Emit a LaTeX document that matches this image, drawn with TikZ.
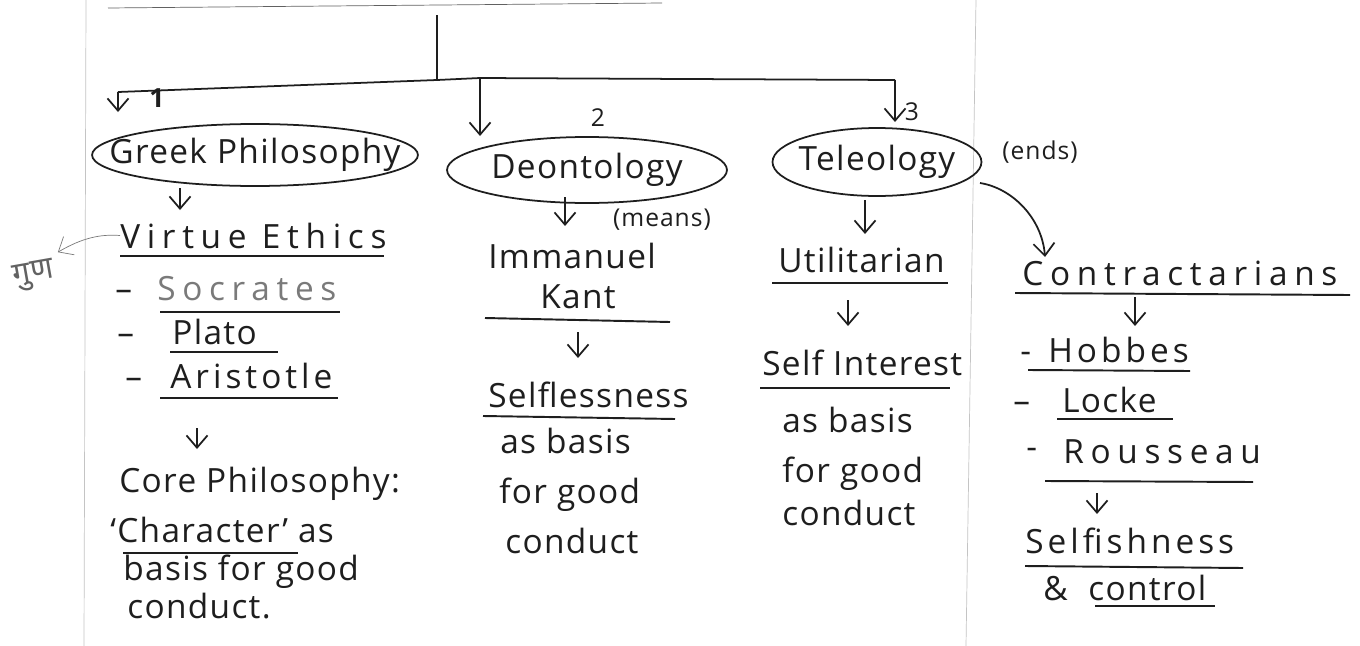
\documentclass[tikz,border=0pt]{standalone}
\usepackage{fontspec}
\setmainfont{Open Sans}[LetterSpace=4]
\newfontfamily\devafont[Script=Devanagari]{Noto Sans}
\usetikzlibrary{arrows.meta}

\definecolor{ink}{HTML}{1E1E1E}
\definecolor{pencil}{HTML}{7A7A7A}
\definecolor{edge}{HTML}{C4C4C4}

\begin{document}
\begin{tikzpicture}[
    x=0.02cm, y=-0.02cm,
    font=\fontsize{19}{22}\selectfont,
    >={Straight Barb[length=7pt,width=12pt]},
    word/.style={text=ink, inner sep=0pt, anchor=base west},
    wide/.style={word, font=\fontsize{19}{22}\selectfont\addfontfeatures{LetterSpace=20}},
    roomy/.style={word, font=\fontsize{19}{22}\selectfont\addfontfeatures{LetterSpace=12}},
    note/.style={text=ink, inner sep=0pt, font=\fontsize{14}{16}\selectfont},
    bubble/.style={draw=ink, line width=1pt},
    link/.style={draw=ink, line width=1pt, ->},
    uline/.style={draw=ink, line width=1.1pt},
]

\useasboundingbox (0,0) rectangle (1360,646);
\fill[white] (0,0) rectangle (1360,646);

% Page edges
\draw[edge] (86,0) -- (84,646);
\draw[edge] (976,0) -- (966,646);
\draw[ink!70] (108,8) -- (662,3);

% Trunk and branches
\coordinate (stem) at (437,15);
\coordinate (fork) at (437,80);
\coordinate (bl) at (118,92);
\coordinate (bm) at (480,78);
\coordinate (br) at (895,80);
\coordinate (tl) at (118,112);
\coordinate (tm) at (480,136);
\coordinate (tr) at (895,122);
\draw[ink, line width=1pt] (stem) -- (fork);
\draw[ink, line width=1pt] (bl) -- (fork) -- (bm) -- (br);
\draw[link] (bl) -- (tl);
\draw[link] (bm) -- (tm);
\draw[link] (br) -- (tr);

\node[note, font=\fontsize{15}{17}\bfseries] (n1) at (157,98) {1};
\node[note] (n2) at (598,118) {2};
\node[note] (n3) at (912,112) {3};

% Greek Philosophy
\node[text=ink] (greek) at (255,155) {Greek Philosophy};
\draw[bubble] (greek.center) ellipse [x radius=3.26cm, y radius=0.62cm];
\coordinate (g1) at (180,188);
\coordinate (g2) at (180,210);
\draw[link] (g1) -- (g2);

\node[wide] (virtue) at (120,248) {Virtue Ethics};
\draw[uline] (120,256) -- (384,256);
\node[text=pencil!80!black, inner sep=0pt, font=\devafont\fontsize{18}{20}\selectfont, rotate=10] (guna) at (34,276) {गुण};
\draw[pencil, thin, ->] (virtue.west) .. controls (100,234) and (82,238) .. ([shift={(6,-6)}]guna.north east);

\node[word] (d1) at (115,300) {–};
\node[wide, text=pencil] (socrates) at (157,300) {Socrates};
\draw[uline] (160,312) -- (340,312);
\node[word] (d2) at (117,344) {–};
\node[word] (plato) at (172,344) {Plato};
\draw[uline] (170,352) -- (278,352);
\node[word] (d3) at (125,388) {–};
\node[roomy] (aristotle) at (170,388) {Aristotle};
\draw[uline] (160,398) -- (338,398);

\coordinate (g3) at (197,428);
\coordinate (g4) at (197,449);
\draw[link] (g3) -- (g4);
\node[word] (core) at (119,492) {Core Philosophy:};
\node[word] (character) at (110,542) {‘Character’ as};
\draw[uline] (123,553) -- (298,553);
\node[word] (basis1) at (123,580) {basis for good};
\node[word] (conduct1) at (127,618) {conduct.};

% Deontology
\node[text=ink] (deon) at (587,170) {Deontology};
\draw[bubble] (deon.center) ellipse [x radius=2.8cm, y radius=0.66cm];
\node[note] (means) at (662,220) {(means)};
\coordinate (d4) at (565,197);
\coordinate (d5) at (565,226);
\draw[link] (d4) -- (d5);

\node[word] (immanuel) at (488,268) {Immanuel};
\node[word] (kant) at (540,308) {Kant};
\draw[uline] (485,318) -- (670,322);
\coordinate (d6) at (578,332);
\coordinate (d7) at (578,358);
\draw[link] (d6) -- (d7);
\node[word] (selfless) at (488,407) {Selflessness};
\draw[uline] (483,416) -- (675,419);
\node[word] (basis2) at (500,453) {as basis};
\node[word] (good2) at (499,503) {for good};
\node[word] (conduct2) at (505,553) {conduct};

% Teleology
\node[text=ink] (tele) at (877,162) {Teleology};
\draw[bubble] (tele.center) ellipse [x radius=2.09cm, y radius=0.68cm];
\node[note] (ends) at (1040,152) {(ends)};
\coordinate (t1) at (865,200);
\coordinate (t2) at (865,234);
\draw[link] (t1) -- (t2);

\node[word] (util) at (778,272) {Utilitarian};
\draw[uline] (772,283) -- (948,283);
\coordinate (t3) at (848,300);
\coordinate (t4) at (848,326);
\draw[link] (t3) -- (t4);
\node[word] (selfint) at (762,375) {Self Interest};
\draw[uline] (760,388) -- (950,388);
\node[word] (basis3) at (782,432) {as basis};
\node[word] (good3) at (782,482) {for good};
\node[word] (conduct3) at (782,525) {conduct};

% Contractarians
\coordinate (telout) at (980,183);
\coordinate (conin) at (1045,257);
\draw[link] (telout) .. controls (1012,188) and (1042,218) .. (conin);
\node[wide] (contract) at (1022,285) {Contractarians};
\draw[uline] (1015,293) -- (1350,295);
\coordinate (c1) at (1135,297);
\coordinate (c2) at (1135,326);
\draw[link] (c1) -- (c2);

\node[word] (d8) at (1020,362) {-};
\node[roomy] (hobbes) at (1048,362) {Hobbes};
\draw[uline] (1028,370) -- (1190,371);
\node[word] (d9) at (1013,412) {–};
\node[word] (locke) at (1062,412) {Locke};
\draw[uline] (1057,419) -- (1173,419);
\node[word] (d10) at (1026,458) {-};
\node[wide] (rousseau) at (1063,463) {Rousseau};
\draw[uline] (1045,481) -- (1253,482);
\coordinate (c3) at (1097,493);
\coordinate (c4) at (1097,514);
\draw[link] (c3) -- (c4);
\node[roomy] (selfish) at (1025,553) {Selfishness};
\draw[uline] (1025,566) -- (1243,568);
\node[word] (amp) at (1043,600) {\&};
\node[word] (control) at (1088,600) {control};
\draw[uline] (1095,606) -- (1215,606);

\end{tikzpicture}
\end{document}
